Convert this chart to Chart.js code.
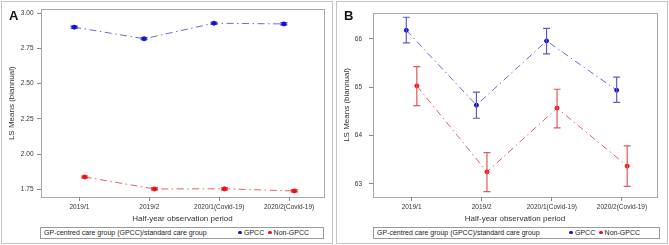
<!DOCTYPE html>
<html>
<head>
<meta charset="utf-8">
<script src="https://cdn.jsdelivr.net/npm/chart.js@4.4.1/dist/chart.umd.min.js"></script>
<style>
  html, body { margin: 0; padding: 0; background: #fff; }
  body { width: 669px; height: 245px; position: relative; overflow: hidden;
         font-family: "Liberation Sans", Arial, sans-serif; }
  .panel { position: absolute; top: 1px; width: 330px; height: 241px;
           border: 1px solid #c4c4c4; background: #fff; }
  .panel canvas { position: absolute; left: 0; top: 0; }
  .letter { position: absolute; left: 7px; top: 6px; font-size: 13px; line-height: 15px;
            font-weight: bold; color: #111; }
  .legend { position: absolute; top: 225px; height: 10px; border: 1px solid #9a9a9a;
            font-size: 7px; line-height: 10px; color: #222; box-sizing: content-box; }
  .legend .ttl { position: absolute; left: 3px; top: 0; white-space: nowrap; }
  .legend .items { position: absolute; right: 14px; top: 0; white-space: nowrap; }
  .dot { display: inline-block; width: 3.5px; height: 3.5px; border-radius: 50%;
         margin: 0 2px 1px 0; vertical-align: middle; }
</style>
</head>
<body>
<div class="panel" id="panelA" style="left:1px">
  <canvas id="chartA"></canvas>
  <div class="letter">A</div>
  <div class="legend" style="left:38px; width:282px">
    <span class="ttl">GP-centred care group (GPCC)/standard care group</span>
    <span class="items"><span class="dot" style="background:#1010e0"></span>GPCC&nbsp;&nbsp;<span class="dot" style="background:#f01010"></span>Non-GPCC</span>
  </div>
</div>
<div class="panel" id="panelB" style="left:336px">
  <canvas id="chartB"></canvas>
  <div class="letter">B</div>
  <div class="legend" style="left:36px; width:285px">
    <span class="ttl">GP-centred care group (GPCC)/standard care group</span>
    <span class="items" style="right:19px"><span class="dot" style="background:#1010e0"></span>GPCC&nbsp;&nbsp;<span class="dot" style="background:#f01010"></span>Non-GPCC</span>
  </div>
</div>
<script>
// categories
const periods = ["2019/1", "2019/2", "2020/1(Covid-19)", "2020/2(Covid-19)"];
const seriesNames = ["GPCC", "Non-GPCC"];

// panel A values (LS means and confidence limits)
const aGpcc = [2.900, 2.818, 2.928, 2.923];
const aGpccLo = [2.893, 2.811, 2.921, 2.916];
const aGpccHi = [2.907, 2.825, 2.935, 2.930];
const aNon = [1.838, 1.753, 1.754, 1.739];
const aNonLo = [1.831, 1.746, 1.747, 1.732];
const aNonHi = [1.845, 1.760, 1.761, 1.746];
const aTicks = [1.75, 2.00, 2.25, 2.50, 2.75, 3.00];

// panel B values
const bGpcc = [66.18, 64.63, 65.96, 64.94];
const bGpccLo = [65.92, 64.36, 65.69, 64.69];
const bGpccHi = [66.45, 64.90, 66.22, 65.21];
const bNon = [65.03, 63.25, 64.57, 63.37];
const bNonLo = [64.62, 62.84, 64.16, 62.95];
const bNonHi = [65.43, 63.65, 64.96, 63.79];
const bTicks = [63, 64, 65, 66];

const FONT = "'Liberation Sans', Arial, sans-serif";
const BLUE = "#1010e0", BLUE_LINE = "#6a6ad8", BLUE_ERR = "#5c5cc8";
const RED = "#f01010", RED_LINE = "#e06464", RED_ERR = "#e05a5a";
const SHIFT = 0.075; // cluster offset between groups

// error bars + frame around the plot area
const errorBarPlugin = {
  id: "errorBars",
  afterDatasetsDraw(chart) {
    const { ctx } = chart;
    const xs = chart.scales.x, ys = chart.scales.y;
    chart.data.datasets.forEach((ds) => {
      if (!ds.lo) return;
      ctx.save();
      ctx.strokeStyle = ds.errColor;
      ctx.lineWidth = 1.2;
      ds.data.forEach((p, i) => {
        const x = xs.getPixelForValue(p.x);
        const y1 = ys.getPixelForValue(ds.lo[i]);
        const y2 = ys.getPixelForValue(ds.hi[i]);
        ctx.beginPath();
        ctx.moveTo(x, y1); ctx.lineTo(x, y2);
        ctx.moveTo(x - 3.5, y1); ctx.lineTo(x + 3.5, y1);
        ctx.moveTo(x - 3.5, y2); ctx.lineTo(x + 3.5, y2);
        ctx.stroke();
      });
      ctx.restore();
    });
  },
  beforeDraw(chart) {
    const { ctx, chartArea: a } = chart;
    ctx.save();
    ctx.strokeStyle = "#a8a8a8";
    ctx.lineWidth = 1;
    ctx.strokeRect(Math.round(a.left) + 0.5, Math.round(a.top) + 0.5,
                   Math.round(a.right - a.left), Math.round(a.bottom - a.top));
    ctx.restore();
  }
};

function series(vals, lo, hi, off, name, mark, line, err) {
  return {
    label: name,
    data: vals.map((v, i) => ({ x: i + off, y: v })),
    lo, hi,
    errColor: err,
    borderColor: line,
    backgroundColor: mark,
    pointBackgroundColor: mark,
    pointBorderColor: mark,
    pointRadius: 2,
    borderWidth: 1,
    borderDash: [7, 3.5, 1.5, 3.5],
    showLine: true,
    tension: 0
  };
}

function makeChart(id, h, datasets, yMin, yMax, yTicks, fmt, yWidth, yPad, right) {
  const canvas = document.getElementById(id);
  return new Chart(canvas.getContext("2d"), {
    type: "scatter",
    data: { datasets },
    options: {
      responsive: false,
      animation: false,
      devicePixelRatio: 1,
      layout: { padding: { left: 5, right: right, top: 5, bottom: 0 } },
      plugins: { legend: { display: false }, tooltip: { enabled: false } },
      scales: {
        x: {
          type: "linear",
          min: -0.55, max: 3.5,
          afterBuildTicks: (s) => { s.ticks = periods.map((_, i) => ({ value: i })); },
          afterFit: (s) => { s.height = h - 195; },
          grid: { display: true, drawOnChartArea: false, tickLength: 4, color: "#8a8a8a" },
          border: { display: false },
          ticks: {
            autoSkip: false, maxRotation: 0, padding: 2,
            color: "#333", font: { family: FONT, size: 6.5 },
            callback: (v) => periods[v]
          },
          title: {
            display: true, text: "Half-year observation period",
            color: "#333", font: { family: FONT, size: 8 }, padding: 0
          }
        },
        y: {
          min: yMin, max: yMax,
          afterBuildTicks: (s) => { s.ticks = yTicks.map((v) => ({ value: v })); },
          afterFit: (s) => { s.width = yWidth; },
          grid: { display: true, drawOnChartArea: false, tickLength: 4, color: "#8a8a8a" },
          border: { display: false },
          ticks: {
            padding: yPad, color: "#333", font: { family: FONT, size: 6.5 },
            callback: fmt
          },
          title: {
            display: true, text: "LS Means (biannual)",
            color: "#333", font: { family: FONT, size: 8 }, padding: 0
          }
        }
      }
    },
    plugins: [errorBarPlugin]
  });
}

function sizeCanvas(id, w, h) {
  const c = document.getElementById(id);
  c.width = w; c.height = h;
  c.style.width = w + "px"; c.style.height = h + "px";
}

sizeCanvas("chartA", 330, 222);
makeChart("chartA", 222, [
  series(aGpcc, aGpccLo, aGpccHi, -SHIFT, seriesNames[0], BLUE, BLUE_LINE, BLUE),
  series(aNon, aNonLo, aNonHi, SHIFT, seriesNames[1], RED, RED_LINE, RED)
], 1.696, 3.026, aTicks, (v) => v.toFixed(2), 34, 3.5, 8);

sizeCanvas("chartB", 330, 222);
makeChart("chartB", 222, [
  series(bGpcc, bGpccLo, bGpccHi, -SHIFT, seriesNames[0], BLUE, BLUE_LINE, BLUE_ERR),
  series(bNon, bNonLo, bNonHi, SHIFT, seriesNames[1], RED, RED_LINE, RED_ERR)
], 62.73, 66.54, bTicks, (v) => String(v), 31, 7, 10);
</script>
</body>
</html>
